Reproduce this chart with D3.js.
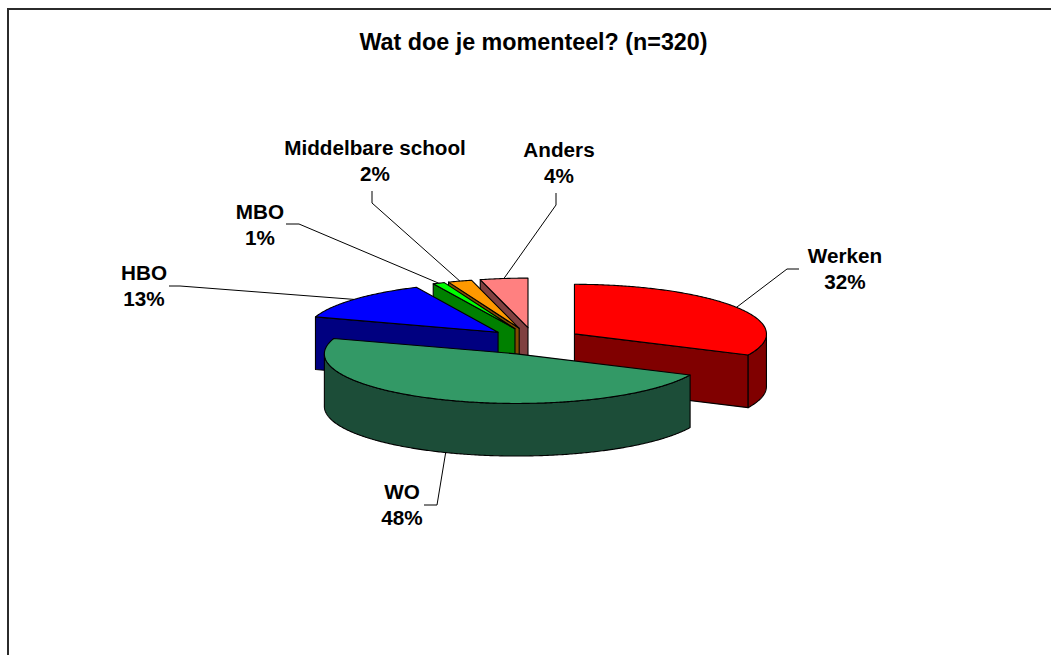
<!DOCTYPE html>
<html>
<head>
<meta charset="utf-8">
<script src="https://cdn.jsdelivr.net/npm/d3@7/dist/d3.min.js"></script>
<style>
html,body{margin:0;padding:0;background:#fff;overflow:hidden}
svg{display:block}
text{font-family:"Liberation Sans",Arial,sans-serif;font-weight:bold;fill:#000;text-anchor:middle}
</style>
</head>
<body>
<svg id="c" width="1051" height="655"></svg>
<script>
const titleText = "Wat doe je momenteel? (n=320)";
const categories = ["Werken","WO","HBO","MBO","Middelbare school","Anders"];
const values = [32,48,13,1,2,4];
const topColors = ["#FF0000","#339966","#0000FF","#00FF00","#FF9900","#FF8080"];
const wallColors = ["#800000","#1C4D38","#000080","#008000","#804D00","#804040"];
const drawOrder = [5,4,3,2,0,1];

// layout
const W = 1051, H = 655;
const cx = 534, cy = 341.2, rx = 192, ry = 49.6, depth = 52.6, exX = 47.9, exY = 13.6;
const labelCentres = [845,402,144,260,375,559];
const labelBaselines = [263,499,280,219,155,157];
const labelGap = 26;
const elbowA = [[787,269],[437,505],[180,286],[299,224],[372,203],[556,205]];
const elbowB = [[799,269],[424,505],[169,286],[286,224],[372,191],[556,193]];

const svg = d3.select("#c");
svg.append("rect").attr("width",W).attr("height",H).attr("fill","#fff");
svg.append("path").attr("d",`M8,${H}V9H${W}`).attr("fill","none").attr("stroke","#2b2b2b").attr("stroke-width",2);

const arcs = d3.pie().sort(null).value(d=>d)(values);
const lineGen = d3.line().curve(d3.curveLinear);

function centre(a){
  const mid = (a.startAngle+a.endAngle)/2;
  return [cx + exX*Math.sin(mid), cy - exY*Math.cos(mid)];
}
function pt(c,ang,dz=0){ return [c[0]+rx*Math.sin(ang), c[1]-ry*Math.cos(ang)+dz]; }
function arcPts(c,a0,a1,dz=0){
  const n = Math.max(2,Math.ceil((a1-a0)/0.01));
  return d3.range(n+1).map(i=>pt(c,a0+(a1-a0)*i/n,dz));
}
const poly = pts => lineGen(pts)+"Z";

const g = svg.append("g").attr("stroke","#000").attr("stroke-width",1.1).attr("stroke-linejoin","round");

drawOrder.forEach(i=>{
  const a = arcs[i], c = centre(a), s = a.startAngle, e = a.endAngle;
  const base = [c[0],c[1]+depth], top = c;
  // visible cut faces
  if (Math.sin(s) < -1e-6){
    const p = pt(c,s);
    g.append("path").attr("d",poly([top,p,[p[0],p[1]+depth],base])).attr("fill",wallColors[i]);
  }
  if (Math.sin(e) > 1e-6){
    const p = pt(c,e);
    g.append("path").attr("d",poly([top,p,[p[0],p[1]+depth],base])).attr("fill",wallColors[i]);
  }
  // outer rim, front half only
  const r0 = Math.max(s,Math.PI/2), r1 = Math.min(e,Math.PI*1.5);
  if (r1 > r0){
    g.append("path")
      .attr("d",poly(arcPts(c,r0,r1).concat(arcPts(c,r0,r1,depth).reverse())))
      .attr("fill",wallColors[i]);
  }
  // top face
  g.append("path").attr("d",poly([c].concat(arcPts(c,s,e)))).attr("fill",topColors[i]);
});

// leaders
categories.forEach((name,i)=>{
  const a = arcs[i], c = centre(a), mid = (a.startAngle+a.endAngle)/2;
  const front = Math.cos(mid) < 0 && Math.abs(Math.sin(mid)) < 0.5;
  const start = pt(c,mid,front?depth:0);
  svg.append("path").attr("d",lineGen([start,elbowA[i],elbowB[i]]))
    .attr("fill","none").attr("stroke","#000").attr("stroke-width",1);
  const t = svg.append("text").attr("font-size",20.7);
  t.append("tspan").attr("x",labelCentres[i]).attr("y",labelBaselines[i]).text(name);
  t.append("tspan").attr("x",labelCentres[i]).attr("y",labelBaselines[i]+labelGap)
    .text(d3.format(".0%")(values[i]/d3.sum(values)));
});

svg.append("text").attr("x",533.5).attr("y",50).attr("font-size",23.3).text(titleText);
</script>
</body>
</html>
